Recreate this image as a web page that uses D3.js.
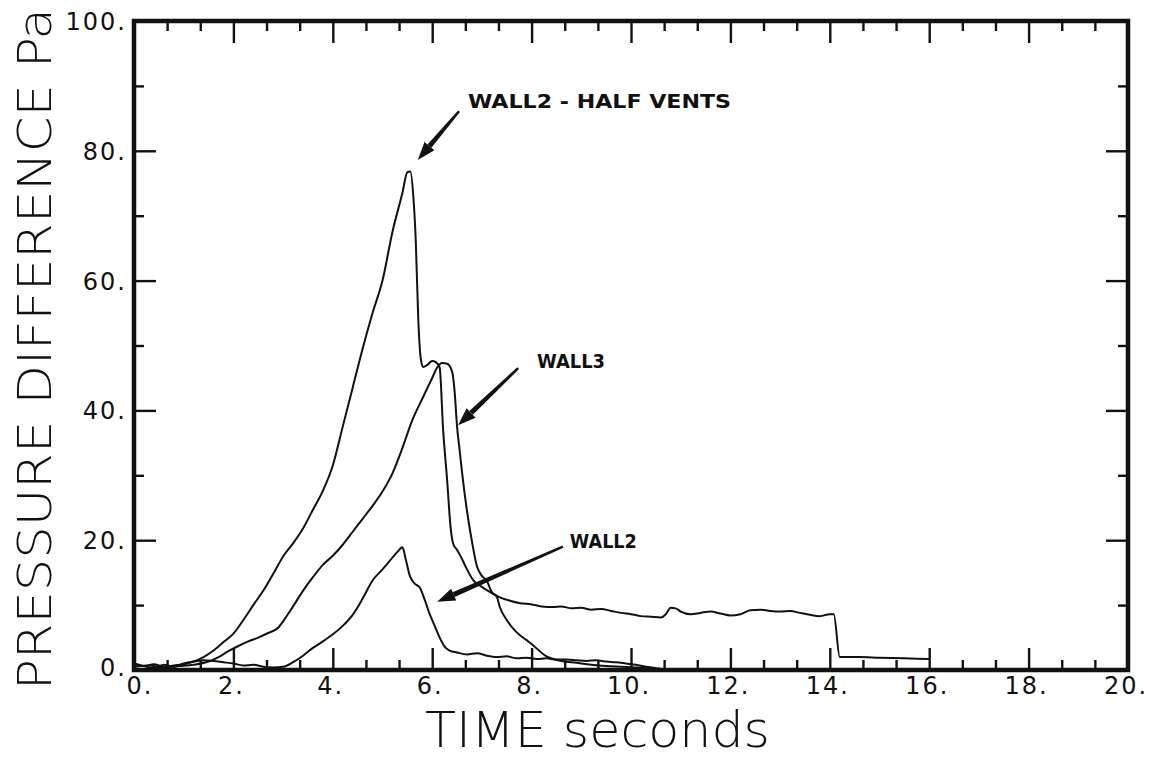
<!DOCTYPE html>
<html>
<head>
<meta charset="utf-8">
<script src="https://cdn.jsdelivr.net/npm/d3@7"></script>
<style>
  html, body { margin: 0; padding: 0; background: #fff; }
  svg { display: block; }
  text { font-family: "DejaVu Sans", "Liberation Sans", sans-serif; fill: #111; }
</style>
</head>
<body>
<svg id="chart" width="1157" height="764"></svg>
<script>
// Pressure difference across walls vs. time — [time (s), pressure (Pa)]
const wall2HalfVents = [
  [0.0,0.8],[0.2,0.6],[0.4,0.9],[0.6,0.5],[0.8,0.7],[1.0,0.9],[1.2,1.3],[1.4,2.0],[1.6,3.0],[1.8,4.3],
  [2.0,5.6],[2.2,7.7],[2.4,10.0],[2.6,12.2],[2.8,14.8],[3.0,17.5],[3.2,19.5],[3.4,21.8],[3.6,24.7],[3.8,27.6],
  [4.0,31.5],[4.2,37.5],[4.4,43.5],[4.6,49.5],[4.8,55.0],[5.0,60.0],[5.2,67.5],[5.4,73.5],[5.5,76.7],[5.56,76.8],
  [5.62,73.0],[5.67,66.0],[5.72,54.0],[5.77,48.0],[5.82,46.7],[5.9,47.0],[6.0,47.6],[6.08,47.4],[6.15,46.6],[6.22,37.0],
  [6.3,29.3],[6.37,22.0],[6.42,19.5],[6.5,18.5],[6.56,17.7],[6.7,15.5],[6.82,13.9],[7.0,12.8],[7.1,12.3],[7.36,11.2],
  [7.6,10.6],[7.77,10.3],[8.0,10.1],[8.2,9.8],[8.43,9.7],[8.6,9.8],[8.8,9.5],[9.0,9.6],[9.2,9.3],[9.4,9.4],
  [9.6,9.1],[9.8,8.8],[10.0,8.6],[10.2,8.3],[10.4,8.2],[10.6,8.1],[10.7,8.6],[10.8,9.6],[10.9,9.5],[11.0,9.0],
  [11.2,8.6],[11.4,8.8],[11.6,9.0],[11.8,8.7],[12.0,8.4],[12.2,8.6],[12.4,9.2],[12.6,9.3],[12.8,9.1],[13.0,9.0],
  [13.2,9.1],[13.4,8.8],[13.6,8.5],[13.8,8.3],[14.0,8.6],[14.08,8.6],[14.2,2.0],[14.6,2.0],[15.0,1.9],[15.5,1.8],
  [16.0,1.7]
];
const wall3 = [
  [0.0,0.5],[0.3,0.7],[0.6,0.4],[0.9,0.6],[1.2,0.8],[1.5,1.3],[1.7,2.0],[1.9,2.9],[2.1,3.7],[2.3,4.4],
  [2.5,5.0],[2.7,5.7],[2.9,6.5],[3.0,7.5],[3.2,9.8],[3.4,12.2],[3.6,14.3],[3.8,16.2],[4.0,17.6],[4.2,19.3],
  [4.4,21.3],[4.6,23.3],[4.8,25.3],[5.0,27.5],[5.2,30.3],[5.4,34.2],[5.6,38.5],[5.8,41.8],[6.0,45.0],[6.1,46.6],
  [6.2,47.3],[6.3,47.2],[6.4,46.0],[6.45,43.0],[6.5,37.5],[6.55,34.0],[6.6,30.5],[6.7,24.5],[6.8,19.8],[6.9,16.0],
  [7.0,14.5],[7.1,13.7],[7.2,12.0],[7.3,11.3],[7.36,9.7],[7.5,7.7],[7.7,5.8],[7.9,4.6],[8.0,4.0],[8.3,2.1],
  [8.6,1.4],[8.9,1.1],[9.2,0.8],[9.5,0.6],[9.8,0.5],[10.1,0.4],[10.4,0.3],[10.6,0.2]
];
const wall2 = [
  [0.0,1.0],[0.2,0.6],[0.4,0.3],[0.6,0.8],[0.8,0.5],[1.0,1.0],[1.2,1.3],[1.4,1.5],[1.6,1.4],[1.8,1.2],
  [2.0,1.0],[2.2,0.7],[2.4,0.8],[2.6,0.5],[2.8,0.4],[3.0,0.5],[3.2,1.2],[3.4,2.2],[3.6,3.4],[3.8,4.4],
  [4.0,5.5],[4.2,6.8],[4.4,8.5],[4.6,11.0],[4.8,13.8],[5.0,15.5],[5.2,17.3],[5.3,18.2],[5.4,18.9],[5.47,17.0],
  [5.55,14.5],[5.65,13.3],[5.75,12.7],[5.85,10.8],[5.95,8.6],[6.05,6.8],[6.15,5.0],[6.25,3.6],[6.35,3.0],[6.5,2.7],
  [6.7,2.4],[6.9,2.6],[7.1,2.2],[7.3,2.0],[7.5,2.1],[7.7,1.8],[7.9,1.9],[8.1,1.7],[8.3,1.8],[8.5,1.6],
  [8.7,1.6],[8.9,1.5],[9.1,1.4],[9.3,1.5],[9.5,1.3],[9.7,1.2],[9.9,1.0],[10.1,0.8],[10.3,0.5],[10.5,0.3]
];

// Axis ticks and labels
const xMajorTicks = [0, 2, 4, 6, 8, 10, 12, 14, 16, 18, 20];
const xTickLabels = ["0.", "2.", "4.", "6.", "8.", "10.", "12.", "14.", "16.", "18.", "20."];
const yMajorTicks = [0, 20, 40, 60, 80, 100];
const yTickLabels = ["0.", "20.", "40.", "60.", "80.", "100."];
const xTitle = "TIME  seconds";
const yTitle = "PRESSURE  DIFFERENCE  Pa";

// Curve callouts: label, text anchor, arrow tail, arrow tip (data units)
const callouts = [
  { text: "WALL2  -  HALF VENTS", at: [6.72, 86.6], tail: [6.54, 86.1], tip: [5.71, 78.6] },
  { text: "WALL3",                at: [8.11, 46.5], tail: [7.73, 46.5], tip: [6.52, 37.7] },
  { text: "WALL2",                at: [8.77, 18.8], tail: [8.63, 19.0], tip: [6.10, 10.5] }
];

const svg = d3.select("#chart");
const frame = { left: 134, right: 1128, top: 21, bottom: 670 };

const x = d3.scaleLinear().domain([0, 20]).range([frame.left, frame.right]);
const y = d3.scaleLinear().domain([0, 100]).range([frame.bottom, frame.top]);

const xMinor = d3.range(0, 20.001, 2 / 3).filter(v => !xMajorTicks.some(m => Math.abs(m - v) < 1e-6));
const yMinor = d3.range(10, 100, 20);

const tickStroke = 2.4;
const majorLen = 22, minorLen = 10;

// Inward-pointing ticks on all four sides
function drawAxis(axisGen, transform, ticks, len) {
  const g = svg.append("g").attr("transform", transform)
    .call(axisGen.tickValues(ticks).tickSize(len).tickFormat(""));
  g.select(".domain").remove();
  g.selectAll(".tick line").attr("stroke", "#111").attr("stroke-width", tickStroke);
  return g;
}
drawAxis(d3.axisTop(x), `translate(0,${frame.bottom})`, xMajorTicks, majorLen);
drawAxis(d3.axisTop(x), `translate(0,${frame.bottom})`, xMinor, minorLen);
drawAxis(d3.axisBottom(x), `translate(0,${frame.top})`, xMajorTicks, majorLen);
drawAxis(d3.axisBottom(x), `translate(0,${frame.top})`, xMinor, minorLen);
drawAxis(d3.axisRight(y), `translate(${frame.left},0)`, yMajorTicks, majorLen);
drawAxis(d3.axisRight(y), `translate(${frame.left},0)`, yMinor, minorLen);
drawAxis(d3.axisLeft(y), `translate(${frame.right},0)`, yMajorTicks, majorLen);
drawAxis(d3.axisLeft(y), `translate(${frame.right},0)`, yMinor, minorLen);

// Tick labels
svg.append("g").selectAll("text").data(xMajorTicks).join("text")
  .attr("x", d => x(d) + (d === 0 ? 6 : -2))
  .attr("y", frame.bottom + 24)
  .attr("text-anchor", "middle")
  .attr("font-size", 24)
  .attr("letter-spacing", 2)
  .text((d, i) => xTickLabels[i]);

svg.append("g").selectAll("text").data(yMajorTicks).join("text")
  .attr("x", frame.left - 7)
  .attr("y", d => y(d) + (d === 0 ? 6 : 9))
  .attr("text-anchor", "end")
  .attr("font-size", 24)
  .attr("letter-spacing", 2)
  .text((d, i) => yTickLabels[i]);

// Axis titles
svg.append("text")
  .attr("x", 425).attr("y", 747)
  .attr("font-size", 50)
  .attr("font-weight", 200)
  .attr("textLength", 345).attr("lengthAdjust", "spacingAndGlyphs")
  .text(xTitle);

svg.append("text")
  .attr("transform", "translate(51,690) rotate(-90)")
  .attr("font-size", 47)
  .attr("font-weight", 200)
  .attr("textLength", 682).attr("lengthAdjust", "spacingAndGlyphs")
  .text(yTitle);

// Curves
const line = d3.line().x(d => x(d[0])).y(d => y(d[1])).curve(d3.curveMonotoneX);
[wall2HalfVents, wall3, wall2].forEach(series => {
  svg.append("path")
    .datum(series)
    .attr("d", line)
    .attr("fill", "none")
    .attr("stroke", "#111")
    .attr("stroke-width", 2)
    .attr("stroke-linejoin", "round");
});

// Plot frame
svg.append("rect")
  .attr("x", frame.left).attr("y", frame.top)
  .attr("width", frame.right - frame.left).attr("height", frame.bottom - frame.top)
  .attr("fill", "none").attr("stroke", "#111").attr("stroke-width", 4.5);

// Callout arrows and labels
const labelWidths = { "WALL2  -  HALF VENTS": 263, "WALL3": 68, "WALL2": 67 };
const cg = svg.append("g");
callouts.forEach(c => {
  const [tx, ty] = [x(c.tail[0]), y(c.tail[1])];
  const [hx, hy] = [x(c.tip[0]), y(c.tip[1])];
  const ang = Math.atan2(hy - ty, hx - tx);
  const headLen = 18, headW = 6.5;
  const bx = hx - headLen * Math.cos(ang), by = hy - headLen * Math.sin(ang);
  const px = -Math.sin(ang), py = Math.cos(ang);
  // tapered shaft: thin at the tail, wider toward the head
  cg.append("path")
    .attr("d", `M${tx + px * 1.2},${ty + py * 1.2}L${bx + px * 2.6},${by + py * 2.6}` +
               `L${bx - px * 2.6},${by - py * 2.6}L${tx - px * 1.2},${ty - py * 1.2}Z`)
    .attr("fill", "#111");
  cg.append("path")
    .attr("d", `M${hx},${hy}L${bx + px * headW},${by + py * headW}L${bx - px * headW},${by - py * headW}Z`)
    .attr("fill", "#111");
  cg.append("text")
    .attr("x", x(c.at[0])).attr("y", y(c.at[1]))
    .attr("font-size", 20)
    .attr("font-weight", "bold")
    .attr("textLength", labelWidths[c.text]).attr("lengthAdjust", "spacingAndGlyphs")
    .text(c.text);
});
</script>
</body>
</html>
